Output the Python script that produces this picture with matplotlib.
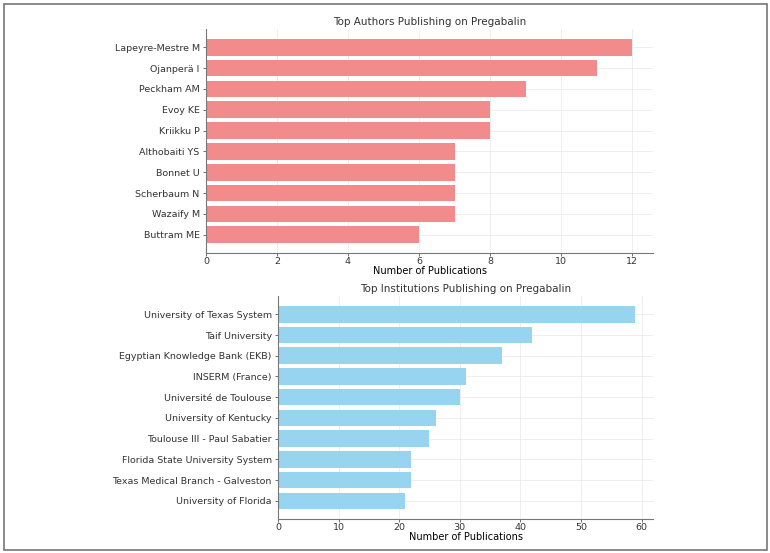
from matplotlib import pyplot as plt
from matplotlib.patches import Rectangle

authors = ['Lapeyre-Mestre M', 'Ojanperä I', 'Peckham AM', 'Evoy KE', 'Kriikku P',
           'Althobaiti YS', 'Bonnet U', 'Scherbaum N', 'Wazaify M', 'Buttram ME']
author_pubs = [12, 11, 9, 8, 8, 7, 7, 7, 7, 6]

institutions = ['University of Texas System', 'Taif University',
                'Egyptian Knowledge Bank (EKB)', 'INSERM (France)',
                'Université de Toulouse', 'University of Kentucky',
                'Toulouse III - Paul Sabatier', 'Florida State University System',
                'Texas Medical Branch - Galveston', 'University of Florida']
institution_pubs = [59, 42, 37, 31, 30, 26, 25, 22, 22, 21]

plt.rcParams['font.family'] = 'DejaVu Sans'
plt.rcParams['text.color'] = '#333333'
plt.rcParams['xtick.color'] = '#555555'
plt.rcParams['ytick.color'] = '#555555'
plt.rcParams['xtick.labelcolor'] = '#333333'
plt.rcParams['ytick.labelcolor'] = '#333333'


def _bar_panel(ax, labels, values, clr, title):
    ax.barh(labels, values, color=clr, height=0.8)
    ax.invert_yaxis()
    ax.set_title(title, fontsize=7.5, pad=3)
    ax.set_xlabel('Number of Publications', fontsize=7, labelpad=0)
    ax.tick_params(labelsize=6.8, length=2.5, width=0.6, pad=2)
    ax.tick_params(axis='x', length=2, pad=1)
    ax.grid(True, color='#ebebeb', linewidth=0.6)
    ax.set_axisbelow(True)
    for side in ('top', 'right'):
        ax.spines[side].set_visible(False)
    for side in ('left', 'bottom'):
        ax.spines[side].set_color('#777777')
        ax.spines[side].set_linewidth(0.8)


fig = plt.figure(figsize=(7.7, 5.53), dpi=100)
ax1 = fig.add_axes([0.2675, 0.542, 0.581, 0.406])
ax2 = fig.add_axes([0.361, 0.061, 0.4875, 0.404])

_bar_panel(ax1, authors, author_pubs, '#f28b8b', 'Top Authors Publishing on Pregabalin')
_bar_panel(ax2, institutions, institution_pubs, '#97d4f0', 'Top Institutions Publishing on Pregabalin')

# thin frame round the whole picture
fig.patches.append(Rectangle((3.5 / 770, 3.5 / 553), 763 / 770, 546 / 553,
                             transform=fig.transFigure, fill=False,
                             edgecolor='#777777', linewidth=1.2))

fig.savefig('out.png', dpi=100)
